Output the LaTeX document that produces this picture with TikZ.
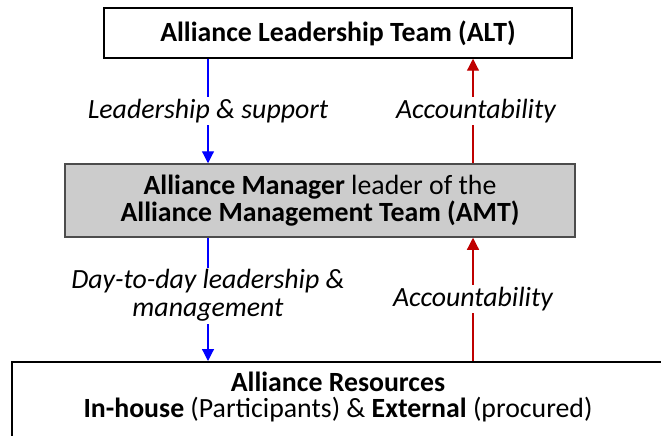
\documentclass[tikz,border=0pt]{standalone}
\usepackage{fontspec}
\setmainfont{Carlito}
\usetikzlibrary{arrows.meta}

\begin{document}
\begin{tikzpicture}[x=1pt, y=-1pt,
    box/.style={draw=black, line width=1.5pt, inner sep=0pt, align=center},
    down/.style={draw=blue, line width=1.2pt, -{Triangle[length=12pt, width=12pt]}},
    up/.style={draw=red!75!black, line width=1.2pt, -{Triangle[length=12pt, width=12pt]}},
    lbl/.style={fill=white, inner sep=2pt, align=center, font=\fontsize{27.8}{28}\selectfont\itshape}]
            \useasboundingbox (0,0) rectangle (661,436);
            % Colonne delle frecce
            \coordinate (blu) at (208,0);
            \coordinate (ros) at (473,0);
            % Riquadro ALT
            \node[box, minimum width=468pt, minimum height=50pt,
                  font=\fontsize{27.8}{27}\selectfont\bfseries] (alt) at (338,33) {Alliance Leadership Team (ALT)};
            % Riquadro AMT
            \node[box, draw=black!70, fill=black!20, minimum width=510pt, minimum height=73pt,
                  font=\fontsize{27.8}{27}\selectfont] (amt) at (320,200.5)
                  {\textbf{Alliance Manager} leader of the\\ \textbf{Alliance Management Team (AMT)}};
            % Riquadro risorse (tagliato dal bordo)
            \node[box, minimum width=652pt, minimum height=100pt, anchor=north] (res) at (338,361) {};
            \node[align=center, font=\fontsize{27.8}{26}\selectfont] (restxt) at (338,397)
                  {\textbf{Alliance Resources}\\ \textbf{In-house} (Participants) \& \textbf{External} (procured)};
            % Frecce tra ALT e AMT
            \draw[down] (blu |- alt.south) -- (blu |- amt.north)
                node[lbl, midway] (lead) {Leadership \& support};
            \draw[up] (ros |- amt.north) -- (ros |- alt.south)
                node[lbl, midway, xshift=3pt] (acc1) {Accountability};
            % Frecce tra AMT e risorse
            \draw[down] (blu |- amt.south) -- (blu |- res.north)
                node[lbl, pos=0.47] (day) {Day-to-day leadership \&\\ management};
            \draw[up] (ros |- res.north) -- (ros |- amt.south)
                node[lbl, pos=0.5] (acc2) {Accountability};
        \end{tikzpicture}
\end{document}
